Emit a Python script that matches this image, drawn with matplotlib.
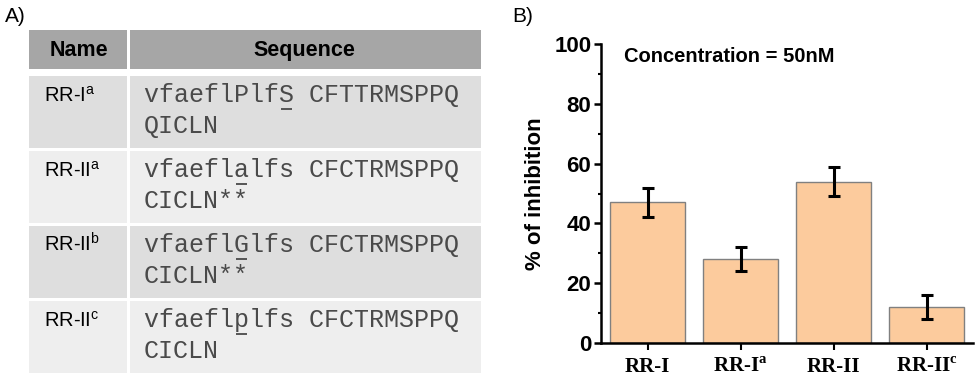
import matplotlib.pyplot as plt
from matplotlib.patches import Rectangle

# bar data (panel B)
peptides = ["RR-I", "RR-I$^{\\mathregular{a}}$", "RR-II", "RR-II$^{\\mathregular{c}}$"]
inhibition = [47, 28, 54, 12]
errors = [5, 4, 5, 4]

# table data (panel A)
col_heads = ["Name", "Sequence"]
row_names = ["RR-I$^{\\mathregular{a}}$", "RR-II$^{\\mathregular{a}}$",
             "RR-II$^{\\mathregular{b}}$", "RR-II$^{\\mathregular{c}}$"]
seq_line1 = ["vfaeflPlfS CFTTRMSPPQ", "vfaeflalfs CFCTRMSPPQ",
             "vfaeflGlfs CFCTRMSPPQ", "vfaeflplfs CFCTRMSPPQ"]
seq_line2 = ["QICLN", "CICLN**", "CICLN**", "CICLN"]
mutation_pos = [9, 6, 6, 6]

sans = "Liberation Sans"
serif = "Liberation Serif"
mono = "Liberation Mono"
seq_col = "#4a4a4a"

fig = plt.figure(figsize=(9.8, 3.78), dpi=100)

# ---- panel A: table drawn in pixel coordinates
tax = fig.add_axes([0, 0, 1, 1])
tax.set_xlim(0, 980)
tax.set_ylim(378, 0)
tax.axis("off")

x0, xdiv, x1 = 29, 128.5, 481
gap = 3
head_top, head_h = 30, 39
row_top0, row_h = 76, 72
row_cols = ["#dedede", "#eeeeee", "#dedede", "#eeeeee"]

tax.text(5, 16, "A)", fontsize=15, family=sans, va="center", ha="left")

tax.add_patch(Rectangle((x0, head_top), xdiv - x0 - gap / 2, head_h, color="#a6a6a6", lw=0))
tax.add_patch(Rectangle((xdiv + gap / 2, head_top), x1 - xdiv - gap / 2, head_h, color="#a6a6a6", lw=0))
tax.text((x0 + xdiv) / 2, head_top + head_h / 2 + 1, col_heads[0], fontsize=15.5,
         weight="bold", family=sans, ha="center", va="center")
tax.text((xdiv + x1) / 2, head_top + head_h / 2 + 1, col_heads[1], fontsize=15.5,
         weight="bold", family=sans, ha="center", va="center")

line1_texts = []
for i in range(len(row_names)):
    top = row_top0 + i * (row_h + gap)
    tax.add_patch(Rectangle((x0, top), xdiv - x0 - gap / 2, row_h, color=row_cols[i], lw=0))
    tax.add_patch(Rectangle((xdiv + gap / 2, top), x1 - xdiv - gap / 2, row_h, color=row_cols[i], lw=0))
    tax.text(44, top + 26, row_names[i], fontsize=14.5, family=sans, ha="left", va="baseline")
    t = tax.text(144, top + 26, seq_line1[i], fontsize=18, family=mono, color=seq_col,
                 ha="left", va="baseline")
    line1_texts.append((t, top))
    tax.text(144, top + 57, seq_line2[i], fontsize=18, family=mono, color=seq_col,
             ha="left", va="baseline")

# underline the mutated residue (monospace: every character has the same width)
fig.canvas.draw()
renderer = fig.canvas.get_renderer()
inv = tax.transData.inverted()
for (t, top), pos, seq in zip(line1_texts, mutation_pos, seq_line1):
    bb = t.get_window_extent(renderer)
    (bx0, _), (bx1, _) = inv.transform([(bb.x0, 0), (bb.x1, 0)])
    cw = (bx1 - bx0) / len(seq)
    xa = bx0 + pos * cw
    tax.plot([xa + 0.15 * cw, xa + 0.85 * cw], [top + 33, top + 33], color=seq_col,
             lw=1.3, solid_capstyle="butt")

# ---- panel B: bar chart
fig.text(512 / 980, 1 - 16 / 378, "B)", fontsize=15, family=sans, va="center", ha="left")

ax = fig.add_axes([601 / 980, 35 / 378, 372 / 980, 299 / 378])
xpos = range(len(peptides))
ax.bar(xpos, inhibition, width=0.8, color="#fccb9d", edgecolor="#808080", linewidth=1)
ax.errorbar(xpos, inhibition, yerr=errors, fmt="none", ecolor="black",
            elinewidth=2.2, capsize=4, capthick=2.2)

ax.set_xlim(-0.5, 3.5)
ax.set_ylim(0, 100)
ax.set_yticks([0, 20, 40, 60, 80, 100])
ax.set_yticks([10, 30, 50, 70, 90], minor=True)
ax.set_xticks(list(xpos))
ax.set_xticklabels(peptides, family=serif, weight="bold", fontsize=15)
for lab in ax.get_yticklabels():
    lab.set_family(sans)
    lab.set_weight("bold")
    lab.set_fontsize(16)

ax.tick_params(axis="y", which="major", direction="out", length=5, width=1.8, pad=2)
ax.tick_params(axis="y", which="minor", direction="out", length=2.5, width=1.5)
ax.tick_params(axis="x", which="major", direction="out", length=5, width=1.5, pad=5)

for s in ["top", "right"]:
    ax.spines[s].set_visible(False)
for s in ["left", "bottom"]:
    ax.spines[s].set_linewidth(1.8)

ax.set_ylabel("% of inhibition", family=sans, weight="bold", fontsize=16, labelpad=6)
ax.text(0.062, 0.957, "Concentration = 50nM", transform=ax.transAxes, family=sans,
        weight="bold", fontsize=14.5, ha="left", va="center")

fig.savefig("out.png", dpi=100)
